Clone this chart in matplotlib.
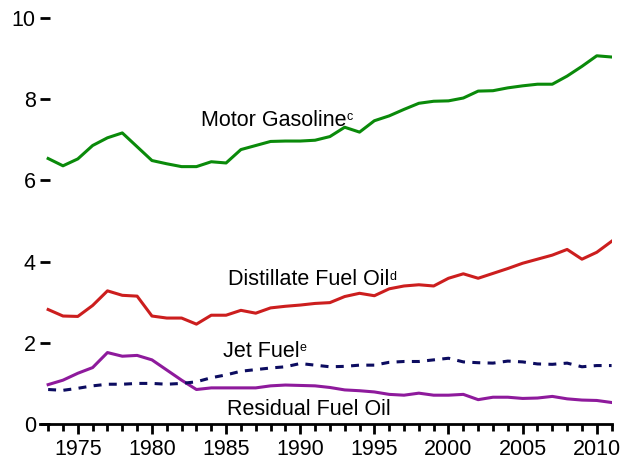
import numpy as np
import matplotlib
matplotlib.use("Agg")
import matplotlib.pyplot as plt
from matplotlib.ticker import MultipleLocator

plt.rcParams["font.family"] = ["Liberation Sans", "DejaVu Sans"]

years = np.arange(1973, 2012)

motor_gasoline = [6.54, 6.36, 6.53, 6.86, 7.05, 7.17, 6.83, 6.49, 6.41, 6.34,
                  6.34, 6.46, 6.43, 6.76, 6.86, 6.96, 6.97, 6.97, 6.99, 7.08,
                  7.31, 7.19, 7.47, 7.59, 7.75, 7.90, 7.95, 7.96, 8.03, 8.20,
                  8.21, 8.28, 8.33, 8.37, 8.37, 8.57, 8.81, 9.07, 9.04]
distillate = [2.82, 2.66, 2.65, 2.92, 3.28, 3.17, 3.15, 2.66, 2.61, 2.61,
              2.46, 2.68, 2.68, 2.80, 2.73, 2.86, 2.90, 2.93, 2.97, 2.99,
              3.14, 3.22, 3.16, 3.33, 3.40, 3.43, 3.40, 3.59, 3.70, 3.59,
              3.71, 3.83, 3.96, 4.06, 4.16, 4.30, 4.06, 4.23, 4.50]
jet_fuel = [0.85, 0.83, 0.88, 0.94, 0.98, 0.98, 1.00, 1.00, 0.98, 1.00,
            1.04, 1.14, 1.21, 1.30, 1.34, 1.38, 1.41, 1.49, 1.45, 1.41,
            1.42, 1.45, 1.45, 1.52, 1.54, 1.54, 1.58, 1.62, 1.53, 1.51,
            1.50, 1.55, 1.53, 1.48, 1.47, 1.50, 1.41, 1.44, 1.44]
residual = [0.97, 1.08, 1.25, 1.39, 1.76, 1.67, 1.69, 1.58, 1.33, 1.08,
            0.85, 0.89, 0.89, 0.89, 0.89, 0.94, 0.96, 0.95, 0.94, 0.90,
            0.84, 0.82, 0.79, 0.73, 0.71, 0.76, 0.71, 0.71, 0.73, 0.60,
            0.66, 0.66, 0.63, 0.64, 0.68, 0.62, 0.59, 0.58, 0.53]

labels = ["Motor Gasoline", "Distillate Fuel Oil", "Jet Fuel", "Residual Fuel Oil"]
label_sups = ["c", "d", "e", ""]
label_xy = [(1983.3, 7.34), (1985.12, 3.42), (1984.76, 1.66), (1985.03, 0.22)]

fig = plt.figure(figsize=(6.23, 4.66), dpi=100)
ax = fig.add_axes([0.0642, 0.0901, 0.9175, 0.8712])

lw = 2.2
ax.plot(years, motor_gasoline, color="#0a8a0a", lw=lw)
ax.plot(years, distillate, color="#cc1e1e", lw=lw)
ax.plot(years, residual, color="#8e1a9c", lw=lw)
ax.plot(years, jet_fuel, color="#0c0c60", lw=lw, dashes=(2.6, 2.4))

for (x, y), txt, sup in zip(label_xy, labels, label_sups):
    t = ax.text(x, y, txt, fontsize=15.5, color="black", ha="left", va="baseline")
    if sup:
        # small superscript tucked against the top-right of the label
        ax.annotate(sup, xy=(1, 1), xycoords=t, xytext=(0.3, -1),
                    textcoords="offset points", fontsize=9,
                    ha="left", va="top")

ax.set_xlim(1972.45, 2011)
ax.set_ylim(0, 10)

for s in ["top", "right", "left"]:
    ax.spines[s].set_visible(False)
ax.spines["bottom"].set_linewidth(2)

ax.xaxis.set_major_locator(MultipleLocator(5))
ax.xaxis.set_minor_locator(MultipleLocator(1))
ax.set_xticks([1975, 1980, 1985, 1990, 1995, 2000, 2005, 2010])
ax.set_yticks([0, 2, 4, 6, 8, 10])
ax.tick_params(axis="x", which="major", direction="out", length=7, width=2,
               labelsize=15.5, pad=4)
ax.tick_params(axis="x", which="minor", direction="out", length=5, width=2)
ax.tick_params(axis="y", which="major", direction="in", length=7.5, width=2,
               labelsize=15.5, pad=3)

fig.savefig("out.png", dpi=100)
